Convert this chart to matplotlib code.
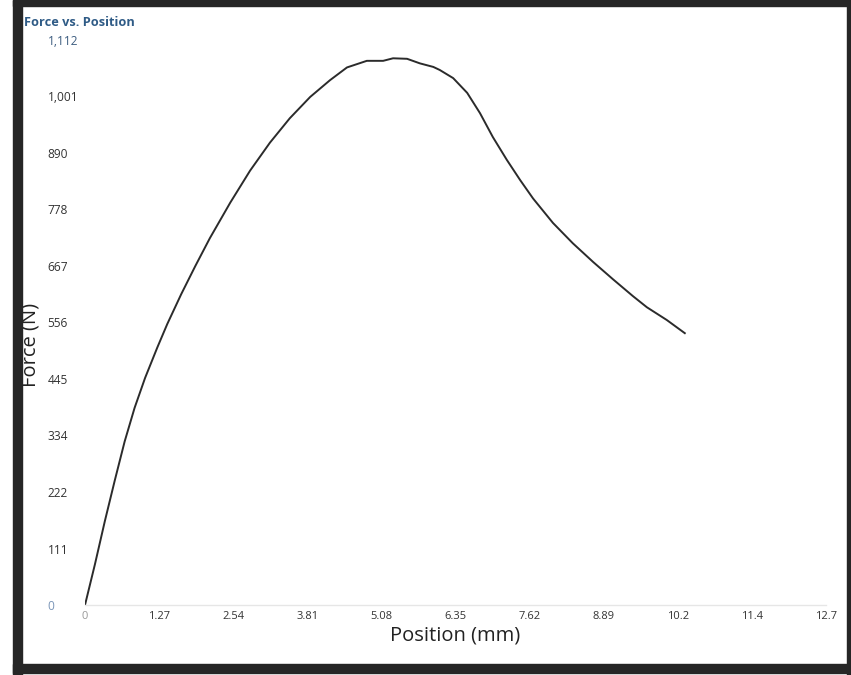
import matplotlib
matplotlib.use('Agg')
import matplotlib.pyplot as plt
from matplotlib.patches import Rectangle

# force / position trace
position_mm = [0.0, 0.17, 0.34, 0.51, 0.68, 0.85, 1.03, 1.24, 1.41, 1.65,
               1.89, 2.14, 2.49, 2.83, 3.17, 3.51, 3.86, 4.20, 4.49, 4.83,
               5.11, 5.28, 5.52, 5.74, 5.97, 6.08, 6.31, 6.55, 6.77, 6.99,
               7.23, 7.46, 7.68, 8.02, 8.36, 8.71, 9.05, 9.39, 9.63, 9.97,
               10.28]
force_n = [0, 80, 165, 245, 322, 388, 447, 507, 553, 612,
           667, 722, 792, 855, 910, 958, 1000, 1033, 1058, 1071,
           1071, 1076, 1075, 1066, 1059, 1053, 1037, 1008, 968, 921,
           876, 836, 800, 752, 712, 675, 641, 608, 586, 561,
           535]

x_ticks = [0, 1.27, 2.54, 3.81, 5.08, 6.35, 7.62, 8.89, 10.16, 11.43, 12.7]
x_tick_labels = ['0', '1.27', '2.54', '3.81', '5.08', '6.35', '7.62', '8.89', '10.2', '11.4', '12.7']
y_ticks = [0, 111.2, 222.4, 333.6, 444.8, 556, 667.2, 778.4, 889.6, 1000.8, 1112]
y_tick_labels = ['0', '111', '222', '334', '445', '556', '667', '778', '890', '1,001', '1,112']

plt.rcParams['font.family'] = ['Open Sans', 'DejaVu Sans']

W, H = 851, 675
fig = plt.figure(figsize=(W / 100, H / 100), dpi=100)
fig.patch.set_facecolor('white')

# dark frame around the screenshot
frame = '#262626'
fig.add_artist(Rectangle((13 / W, 0), 9 / W, 1, transform=fig.transFigure, color=frame))
fig.add_artist(Rectangle((13 / W, 1 - 6 / H), 1, 6 / H, transform=fig.transFigure, color=frame))
fig.add_artist(Rectangle((13 / W, 2 / H), 1, 9 / H, transform=fig.transFigure, color=frame))
fig.add_artist(Rectangle((847 / W, 0), 4 / W, 1, transform=fig.transFigure, color=frame))

ax = fig.add_axes([85 / W, 1 - 605 / H, (826 - 85) / W, (605 - 40) / H])
ax.plot(position_mm, force_n, color='#2b2b2b', linewidth=1.4)

ax.set_xlim(0, 12.7)
ax.set_ylim(0, 1112)
ax.set_xticks(x_ticks)
ax.set_xticklabels(x_tick_labels)
ax.set_yticks(y_ticks)
ax.set_yticklabels(y_tick_labels)
ax.tick_params(axis='both', length=0, labelcolor='#333333')
ax.tick_params(axis='x', pad=4, labelsize=8)
ax.tick_params(axis='y', pad=27, labelsize=8.6)
for lbl in ax.get_yticklabels():
    lbl.set_horizontalalignment('left')
ax.get_yticklabels()[0].set_color('#7b96b8')
ax.get_yticklabels()[-1].set_color('#3d5d80')
ax.get_xticklabels()[0].set_color('#999999')

for side in ['top', 'right', 'left']:
    ax.spines[side].set_visible(False)
ax.spines['bottom'].set_color('#e6e6e6')
ax.spines['bottom'].set_linewidth(1.0)

ax.set_xlabel('Position (mm)', fontsize=14.5, color='#222222')
ax.set_ylabel('Force (N)', fontsize=14.5, color='#222222')
ax.xaxis.set_label_coords(0.5, -0.036)
ax.yaxis.set_label_coords(-0.06, 0.46)

fig.text(24 / W, 1 - 22 / H, 'Force vs. Position', fontsize=9.2, fontweight='bold',
         color='#2f5b86', ha='left', va='center')

fig.savefig('out.png', dpi=100)
